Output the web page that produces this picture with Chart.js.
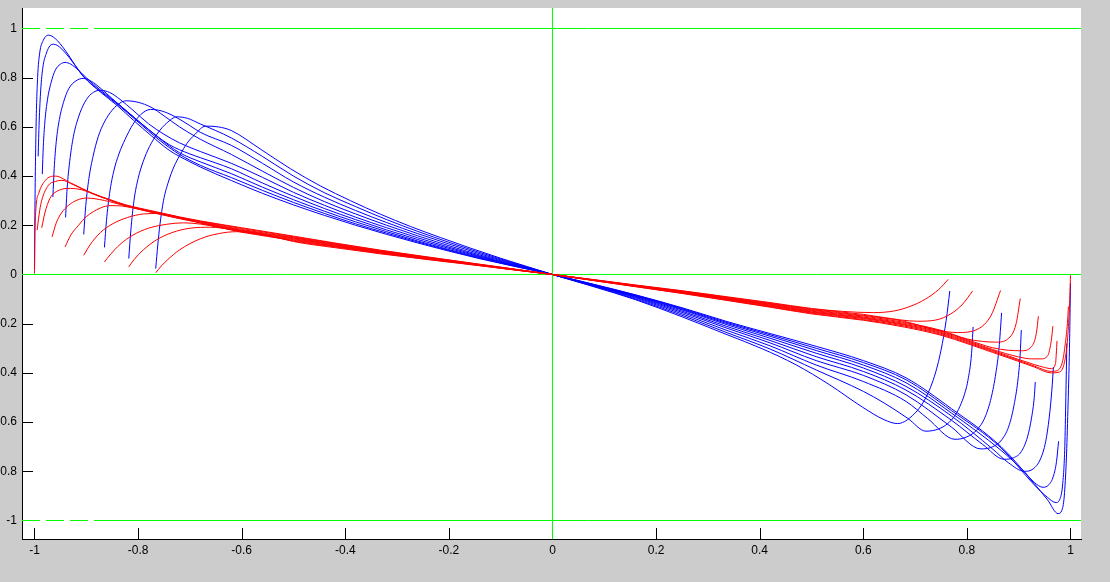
<!DOCTYPE html>
<html><head><meta charset="utf-8">
<script src="https://cdn.jsdelivr.net/npm/chart.js@4.4.1/dist/chart.umd.min.js"></script>
<style>html,body{margin:0;padding:0;background:#cccccc;overflow:hidden}canvas{display:block}</style>
</head><body><canvas id="c" width="1110" height="582"></canvas>
<script>
const xTicks = [-1,-0.8,-0.6,-0.4,-0.2,0,0.2,0.4,0.6,0.8,1];
const yTicks = [-1,-0.8,-0.6,-0.4,-0.2,0,0.2,0.4,0.6,0.8,1];
const xRange = [-1.02413, 1.02027];
const yRange = [-1.0752, 1.0833];

const greenTopDash = [[-1.02413,1],[-0.885,1]];
const greenTopSolid = [[-0.885,1],[1.02027,1]];
const greenBotDash = [[-1.02413,-1],[-0.885,-1]];
const greenBotSolid = [[-0.885,-1],[1.02027,-1]];
const greenZero = [[-1.02413,0],[1.02027,0]];
const greenVert = [[0,-1.0752],[0,1.0833]];

const blue1 = [[-1.0,0.02],[-0.999,0.3],[-0.997,0.6],[-0.994,0.8],[-0.99,0.9],[-0.983,0.952],[-0.973,0.973],[-0.96,0.959],[-0.941,0.912],[-0.915,0.83],[-0.905,0.803],[-0.873,0.742],[-0.841,0.688],[-0.809,0.627],[-0.775,0.565],[-0.74,0.505],[-0.70,0.458],[-0.68,0.437],[-0.62,0.382],[-0.56,0.33],[-0.5,0.283],[-0.44,0.24],[-0.38,0.2],[-0.32,0.163],[-0.26,0.128],[-0.2,0.095],[-0.14,0.064],[-0.08,0.036],[0,0],[0.08,-0.04],[0.161,-0.083],[0.25,-0.135],[0.335,-0.19],[0.42,-0.24],[0.509,-0.292],[0.6,-0.35],[0.6825,-0.42],[0.77,-0.545],[0.866,-0.7],[0.93,-0.85],[0.956,-0.917],[0.976,-0.972],[0.983,-0.96],[0.988,-0.9],[0.992,-0.75],[0.995,-0.55],[0.998,-0.3],[1.0,-0.035]];
const blue2 = [[-0.993,0.48],[-0.991,0.62],[-0.988,0.75],[-0.984,0.84],[-0.977,0.9],[-0.97,0.93],[-0.963,0.936],[-0.955,0.93],[-0.94,0.9],[-0.925,0.86],[-0.905,0.805],[-0.873,0.745],[-0.84,0.692],[-0.8,0.62],[-0.76,0.548],[-0.72,0.488],[-0.68,0.444],[-0.62,0.394],[-0.56,0.342],[-0.5,0.293],[-0.44,0.248],[-0.38,0.206],[-0.32,0.168],[-0.26,0.132],[-0.2,0.098],[-0.14,0.066],[-0.08,0.037],[0,0],[0.08,-0.041],[0.161,-0.084],[0.25,-0.138],[0.335,-0.194],[0.42,-0.245],[0.509,-0.3],[0.6,-0.358],[0.6825,-0.428],[0.77,-0.553],[0.866,-0.705],[0.93,-0.855],[0.955,-0.905],[0.972,-0.927],[0.98,-0.91],[0.985,-0.85],[0.989,-0.7],[0.991,-0.5],[0.993,-0.28]];
const blue3 = [[-0.985,0.408],[-0.983,0.52],[-0.98,0.62],[-0.975,0.71],[-0.968,0.78],[-0.96,0.83],[-0.95,0.855],[-0.941,0.862],[-0.93,0.855],[-0.915,0.83],[-0.9,0.8],[-0.873,0.75],[-0.84,0.696],[-0.8,0.625],[-0.76,0.555],[-0.72,0.495],[-0.68,0.458],[-0.62,0.41],[-0.56,0.355],[-0.5,0.304],[-0.44,0.257],[-0.38,0.214],[-0.32,0.174],[-0.26,0.136],[-0.2,0.101],[-0.14,0.069],[-0.08,0.039],[0,0],[0.08,-0.042],[0.161,-0.086],[0.25,-0.141],[0.335,-0.198],[0.42,-0.251],[0.509,-0.309],[0.6,-0.368],[0.6825,-0.44],[0.77,-0.563],[0.866,-0.715],[0.91,-0.8],[0.93,-0.845],[0.947,-0.865],[0.958,-0.855],[0.967,-0.82],[0.973,-0.76],[0.977,-0.678]];
const blue4 = [[-0.9645,0.315],[-0.962,0.43],[-0.958,0.54],[-0.952,0.63],[-0.944,0.7],[-0.934,0.755],[-0.92,0.787],[-0.906,0.797],[-0.89,0.785],[-0.873,0.758],[-0.85,0.715],[-0.82,0.66],[-0.78,0.59],[-0.74,0.528],[-0.7,0.49],[-0.68,0.475],[-0.62,0.43],[-0.56,0.372],[-0.5,0.318],[-0.44,0.268],[-0.38,0.223],[-0.32,0.181],[-0.26,0.142],[-0.2,0.106],[-0.14,0.072],[-0.08,0.04],[0,0],[0.08,-0.043],[0.161,-0.088],[0.25,-0.144],[0.335,-0.203],[0.42,-0.259],[0.509,-0.32],[0.6,-0.38],[0.6825,-0.455],[0.77,-0.575],[0.85,-0.71],[0.88,-0.765],[0.911,-0.8],[0.928,-0.79],[0.942,-0.75],[0.952,-0.68],[0.959,-0.58],[0.964,-0.47],[0.967,-0.376]];
const blue5 = [[-0.94,0.232],[-0.937,0.35],[-0.932,0.46],[-0.925,0.56],[-0.915,0.64],[-0.903,0.7],[-0.89,0.735],[-0.873,0.749],[-0.855,0.74],[-0.835,0.712],[-0.81,0.668],[-0.78,0.613],[-0.75,0.57],[-0.72,0.535],[-0.68,0.5],[-0.62,0.452],[-0.56,0.395],[-0.5,0.334],[-0.44,0.281],[-0.38,0.233],[-0.32,0.19],[-0.26,0.149],[-0.2,0.111],[-0.14,0.075],[-0.08,0.042],[0,0],[0.08,-0.044],[0.161,-0.09],[0.25,-0.149],[0.335,-0.21],[0.42,-0.268],[0.509,-0.334],[0.6,-0.394],[0.6825,-0.47],[0.77,-0.592],[0.83,-0.69],[0.872,-0.751],[0.89,-0.745],[0.905,-0.72],[0.917,-0.66],[0.925,-0.58],[0.93,-0.5],[0.932,-0.437]];
const blue6 = [[-0.905,0.163],[-0.901,0.28],[-0.895,0.39],[-0.887,0.48],[-0.877,0.56],[-0.865,0.62],[-0.85,0.668],[-0.835,0.697],[-0.823,0.706],[-0.8,0.7],[-0.775,0.68],[-0.75,0.645],[-0.72,0.6],[-0.68,0.55],[-0.62,0.488],[-0.56,0.42],[-0.5,0.354],[-0.44,0.296],[-0.38,0.246],[-0.32,0.2],[-0.26,0.157],[-0.2,0.117],[-0.14,0.079],[-0.08,0.045],[0,0],[0.08,-0.045],[0.161,-0.093],[0.25,-0.154],[0.335,-0.217],[0.42,-0.278],[0.509,-0.35],[0.6,-0.41],[0.6825,-0.489],[0.77,-0.62],[0.827,-0.709],[0.85,-0.7],[0.868,-0.67],[0.882,-0.61],[0.892,-0.52],[0.899,-0.42],[0.903,-0.32],[0.905,-0.226]];
const blue7 = [[-0.865,0.11],[-0.861,0.22],[-0.855,0.33],[-0.847,0.42],[-0.837,0.49],[-0.825,0.55],[-0.81,0.61],[-0.795,0.65],[-0.776,0.671],[-0.755,0.665],[-0.73,0.643],[-0.7,0.605],[-0.68,0.578],[-0.62,0.525],[-0.56,0.452],[-0.5,0.376],[-0.44,0.314],[-0.38,0.26],[-0.32,0.211],[-0.26,0.166],[-0.2,0.124],[-0.14,0.084],[-0.08,0.047],[0,0],[0.08,-0.047],[0.161,-0.096],[0.25,-0.16],[0.335,-0.226],[0.42,-0.29],[0.509,-0.368],[0.6,-0.435],[0.6825,-0.516],[0.724,-0.585],[0.777,-0.67],[0.8,-0.66],[0.82,-0.63],[0.835,-0.58],[0.847,-0.5],[0.856,-0.4],[0.862,-0.3],[0.867,-0.156]];
const blue8 = [[-0.818,0.065],[-0.814,0.18],[-0.808,0.3],[-0.8,0.39],[-0.79,0.46],[-0.778,0.52],[-0.762,0.575],[-0.745,0.615],[-0.725,0.641],[-0.705,0.635],[-0.68,0.612],[-0.65,0.585],[-0.62,0.555],[-0.56,0.48],[-0.5,0.4],[-0.44,0.332],[-0.38,0.276],[-0.32,0.223],[-0.26,0.175],[-0.2,0.131],[-0.14,0.089],[-0.08,0.05],[0,0],[0.08,-0.048],[0.161,-0.1],[0.25,-0.166],[0.335,-0.235],[0.42,-0.303],[0.509,-0.388],[0.6,-0.475],[0.64,-0.522],[0.686,-0.585],[0.721,-0.637],[0.745,-0.628],[0.763,-0.606],[0.778,-0.57],[0.789,-0.524],[0.797,-0.475],[0.802,-0.43],[0.809,-0.321],[0.812,-0.213]];
const blue9 = [[-0.766,0.024],[-0.762,0.12],[-0.758,0.2],[-0.751,0.3],[-0.741,0.38],[-0.731,0.437],[-0.718,0.49],[-0.706,0.532],[-0.69,0.57],[-0.67,0.603],[-0.645,0.6],[-0.62,0.585],[-0.564,0.51],[-0.506,0.43],[-0.448,0.36],[-0.39,0.3],[-0.332,0.245],[-0.274,0.195],[-0.216,0.15],[-0.158,0.107],[-0.1,0.066],[-0.05,0.033],[0,0],[0.08,-0.05],[0.161,-0.103],[0.25,-0.172],[0.335,-0.243],[0.405,-0.302],[0.47,-0.367],[0.534,-0.447],[0.599,-0.54],[0.64,-0.59],[0.666,-0.606],[0.692,-0.579],[0.718,-0.511],[0.737,-0.416],[0.75,-0.308],[0.76,-0.186],[0.767,-0.067]];

const red1 = [[-1.0,0.004],[-0.999,0.19],[-0.992,0.329],[-0.979,0.383],[-0.96,0.4],[-0.93,0.372],[-0.889,0.331],[-0.855,0.305],[-0.825,0.284],[-0.767,0.256],[-0.72,0.234],[-0.68,0.218],[-0.6,0.19],[-0.5,0.156],[-0.42,0.128],[-0.332,0.099],[-0.25,0.074],[-0.158,0.047],[-0.08,0.024],[0,0],[0.08,-0.025],[0.158,-0.049],[0.25,-0.077],[0.335,-0.105],[0.42,-0.133],[0.5,-0.16],[0.6,-0.186],[0.68,-0.214],[0.75,-0.247],[0.802,-0.282],[0.85,-0.317],[0.898,-0.352],[0.93,-0.376],[0.963,-0.4],[0.978,-0.397],[0.988,-0.36],[0.994,-0.27],[0.998,-0.13],[1.0,-0.003]];
const red2 = [[-0.995,0.18],[-0.99,0.26],[-0.986,0.302],[-0.973,0.363],[-0.96,0.378],[-0.947,0.383],[-0.93,0.37],[-0.889,0.329],[-0.855,0.303],[-0.825,0.282],[-0.767,0.254],[-0.72,0.232],[-0.68,0.216],[-0.6,0.187],[-0.5,0.153],[-0.42,0.126],[-0.332,0.097],[-0.25,0.073],[-0.158,0.046],[-0.08,0.0235],[0,0],[0.08,-0.0245],[0.158,-0.048],[0.25,-0.076],[0.335,-0.103],[0.42,-0.131],[0.5,-0.157],[0.6,-0.183],[0.68,-0.21],[0.75,-0.243],[0.802,-0.278],[0.85,-0.313],[0.898,-0.348],[0.93,-0.372],[0.963,-0.394],[0.975,-0.39],[0.985,-0.35],[0.99,-0.28],[0.994,-0.2],[0.996,-0.13]];
const red3 = [[-0.986,0.19],[-0.98,0.25],[-0.97,0.31],[-0.955,0.34],[-0.931,0.35],[-0.91,0.345],[-0.889,0.33],[-0.855,0.302],[-0.825,0.281],[-0.767,0.252],[-0.72,0.23],[-0.68,0.214],[-0.6,0.183],[-0.5,0.15],[-0.42,0.123],[-0.332,0.095],[-0.25,0.071],[-0.158,0.045],[-0.08,0.023],[0,0],[0.08,-0.024],[0.158,-0.047],[0.25,-0.074],[0.335,-0.101],[0.42,-0.128],[0.5,-0.154],[0.6,-0.179],[0.68,-0.206],[0.75,-0.239],[0.802,-0.274],[0.85,-0.309],[0.898,-0.344],[0.93,-0.366],[0.95,-0.378],[0.963,-0.383],[0.971,-0.362],[0.974,-0.27]];
const red4 = [[-0.966,0.153],[-0.958,0.21],[-0.948,0.25],[-0.935,0.28],[-0.918,0.302],[-0.899,0.311],[-0.875,0.305],[-0.855,0.296],[-0.825,0.279],[-0.767,0.25],[-0.72,0.228],[-0.68,0.212],[-0.6,0.18],[-0.5,0.148],[-0.42,0.121],[-0.332,0.093],[-0.25,0.07],[-0.158,0.044],[-0.08,0.0225],[0,0],[0.08,-0.0235],[0.158,-0.046],[0.25,-0.073],[0.335,-0.099],[0.42,-0.126],[0.5,-0.152],[0.6,-0.176],[0.68,-0.203],[0.75,-0.235],[0.802,-0.27],[0.85,-0.305],[0.9,-0.335],[0.925,-0.343],[0.943,-0.343],[0.956,-0.33],[0.963,-0.267],[0.966,-0.21]];
const red5 = [[-0.941,0.112],[-0.93,0.16],[-0.915,0.2],[-0.9,0.235],[-0.873,0.27],[-0.854,0.28],[-0.83,0.278],[-0.8,0.266],[-0.767,0.249],[-0.72,0.227],[-0.68,0.21],[-0.6,0.177],[-0.5,0.145],[-0.42,0.119],[-0.332,0.092],[-0.25,0.068],[-0.158,0.044],[-0.08,0.022],[0,0],[0.08,-0.023],[0.158,-0.045],[0.25,-0.071],[0.335,-0.097],[0.42,-0.124],[0.5,-0.149],[0.6,-0.173],[0.68,-0.199],[0.75,-0.231],[0.802,-0.266],[0.85,-0.298],[0.88,-0.308],[0.905,-0.31],[0.924,-0.295],[0.934,-0.24],[0.938,-0.17]];
const red6 = [[-0.905,0.078],[-0.893,0.12],[-0.873,0.17],[-0.85,0.205],[-0.82,0.232],[-0.79,0.246],[-0.76,0.248],[-0.735,0.24],[-0.71,0.227],[-0.68,0.209],[-0.6,0.174],[-0.5,0.142],[-0.42,0.116],[-0.332,0.09],[-0.25,0.067],[-0.158,0.043],[-0.08,0.0215],[0,0],[0.08,-0.0225],[0.158,-0.045],[0.25,-0.07],[0.335,-0.096],[0.42,-0.121],[0.5,-0.146],[0.6,-0.169],[0.68,-0.195],[0.75,-0.227],[0.8,-0.262],[0.83,-0.272],[0.857,-0.275],[0.879,-0.262],[0.895,-0.2],[0.903,-0.098]];
const red7 = [[-0.865,0.051],[-0.854,0.08],[-0.835,0.122],[-0.81,0.16],[-0.78,0.188],[-0.745,0.204],[-0.712,0.21],[-0.68,0.205],[-0.64,0.19],[-0.6,0.172],[-0.5,0.139],[-0.42,0.114],[-0.332,0.088],[-0.25,0.066],[-0.158,0.042],[-0.08,0.021],[0,0],[0.08,-0.022],[0.158,-0.044],[0.25,-0.069],[0.335,-0.094],[0.42,-0.119],[0.5,-0.143],[0.6,-0.166],[0.68,-0.191],[0.74,-0.225],[0.782,-0.236],[0.821,-0.222],[0.847,-0.165],[0.865,-0.065]];
const red8 = [[-0.818,0.031],[-0.808,0.06],[-0.79,0.1],[-0.765,0.14],[-0.735,0.17],[-0.7,0.188],[-0.66,0.192],[-0.62,0.184],[-0.58,0.17],[-0.54,0.153],[-0.5,0.136],[-0.42,0.112],[-0.332,0.086],[-0.25,0.064],[-0.158,0.041],[-0.08,0.0205],[0,0],[0.08,-0.0215],[0.158,-0.043],[0.25,-0.067],[0.335,-0.092],[0.42,-0.117],[0.5,-0.14],[0.6,-0.162],[0.64,-0.175],[0.705,-0.19],[0.74,-0.185],[0.769,-0.16],[0.792,-0.12],[0.811,-0.067]];
const red9 = [[-0.766,0.007],[-0.755,0.035],[-0.744,0.058],[-0.72,0.1],[-0.68,0.145],[-0.645,0.166],[-0.61,0.174],[-0.57,0.168],[-0.53,0.15],[-0.5,0.134],[-0.42,0.109],[-0.332,0.084],[-0.25,0.063],[-0.158,0.04],[-0.08,0.02],[0,0],[0.08,-0.021],[0.158,-0.042],[0.25,-0.066],[0.335,-0.09],[0.42,-0.114],[0.5,-0.138],[0.56,-0.15],[0.62,-0.155],[0.66,-0.148],[0.69,-0.13],[0.72,-0.1],[0.745,-0.062],[0.764,-0.02]];

const blueCurves = [blue1,blue2,blue3,blue4,blue5,blue6,blue7,blue8,blue9];
const redCurves = [red1,red2,red3,red4,red5,red6,red7,red8,red9];
const toXY = a => a.map(p => ({x:p[0], y:p[1]}));
const FONT = "'Liberation Sans', Arial, Helvetica, sans-serif";
const GREEN = '#00ff00';

const datasets = [];
function greenSet(arr, dash) {
  datasets.push({data: toXY(arr), showLine: true, borderColor: GREEN, borderWidth: 1,
    borderDash: dash || [], pointRadius: 0, tension: 0, order: 3});
}
greenSet(greenTopDash, [18,6]); greenSet(greenTopSolid);
greenSet(greenBotDash, [18,6]); greenSet(greenBotSolid);
greenSet(greenZero); greenSet(greenVert);
blueCurves.forEach(c => datasets.push({data: toXY(c), showLine: true, borderColor: '#0000ff',
  borderWidth: 1, pointRadius: 0, cubicInterpolationMode: 'monotone', order: 2}));
redCurves.forEach(c => datasets.push({data: toXY(c), showLine: true, borderColor: '#ff0000',
  borderWidth: 1, pointRadius: 0, cubicInterpolationMode: 'monotone', order: 1}));

const fmt = v => String(Math.round(v * 10) / 10);

const areaPlugin = {
  id: 'area',
  beforeDraw(chart) {
    const {ctx, chartArea: a} = chart;
    ctx.save(); ctx.fillStyle = '#ffffff';
    ctx.fillRect(a.left, a.top, a.right - a.left, a.bottom - a.top);
    ctx.restore();
  },
  beforeDatasetsDraw(chart) {
    const {ctx, chartArea: a, scales} = chart;
    ctx.save(); ctx.strokeStyle = '#000000'; ctx.lineWidth = 1;
    ctx.beginPath();
    xTicks.forEach(v => {
      const px = Math.round(scales.x.getPixelForValue(v) - 0.01) + 0.5;
      ctx.moveTo(px, a.bottom); ctx.lineTo(px, a.bottom - 11);
    });
    yTicks.forEach(v => {
      const py = Math.round(scales.y.getPixelForValue(v) - 0.01) + 0.5;
      ctx.moveTo(a.left, py); ctx.lineTo(a.left + 11, py);
    });
    ctx.stroke(); ctx.restore();
  }
};

new Chart(document.getElementById('c'), {
  type: 'scatter',
  data: {datasets},
  plugins: [areaPlugin],
  options: {
    responsive: false, animation: false, events: [],
    layout: {padding: {top: 8, right: 29, bottom: 0, left: 0}},
    plugins: {legend: {display: false}, tooltip: {enabled: false}},
    scales: {
      x: {
        type: 'linear', min: xRange[0], max: xRange[1],
        grid: {display: false, drawTicks: false},
        border: {display: true, color: '#000000', width: 1},
        ticks: {autoSkip: false, maxRotation: 0, padding: 4, color: '#000000',
          font: {family: FONT, size: 12}, callback: v => fmt(v)},
        afterBuildTicks: s => { s.ticks = xTicks.map(v => ({value: v})); },
        afterFit: s => { s.height = 43; s.paddingLeft = 0; s.paddingRight = 0; }
      },
      y: {
        type: 'linear', min: yRange[0], max: yRange[1],
        grid: {display: false, drawTicks: false},
        border: {display: true, color: '#000000', width: 1},
        ticks: {autoSkip: false, padding: 5, color: '#000000',
          font: {family: FONT, size: 12}, callback: v => fmt(v)},
        afterBuildTicks: s => { s.ticks = yTicks.map(v => ({value: v})); },
        afterFit: s => { s.width = 22; s.paddingTop = 0; s.paddingBottom = 0; }
      }
    }
  }
});
</script>
</body></html>
